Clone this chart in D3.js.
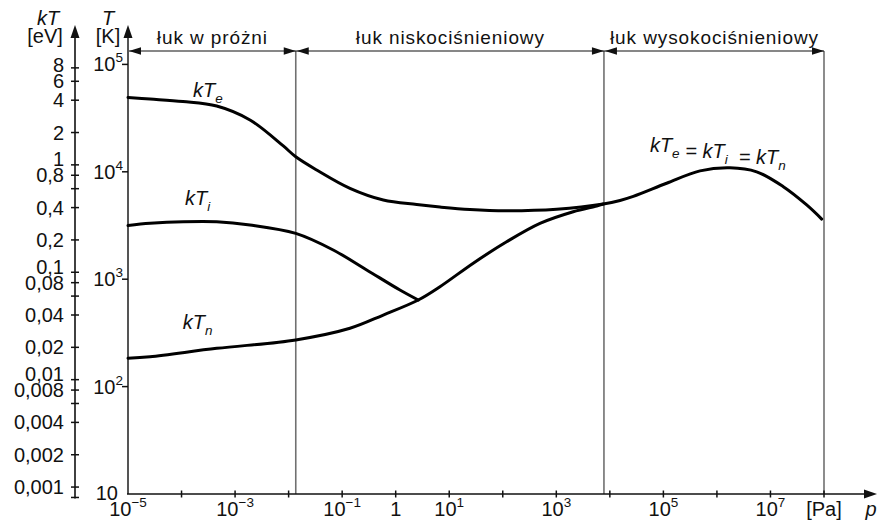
<!DOCTYPE html>
<html>
<head>
<meta charset="utf-8">
<script src="https://cdn.jsdelivr.net/npm/d3@7"></script>
<style>
  html, body { margin: 0; padding: 0; background: #fff; }
  svg { display: block; font-family: "Liberation Sans", Arial, Helvetica, sans-serif; }
</style>
</head>
<body>
<svg id="chart" width="878" height="521"></svg>
<script>
// Pressure axis (Pa), decades with tick marks
const pressureTicks = [1e-5, 1e-4, 1e-3, 1e-2, 1e-1, 1, 1e1, 1e2, 1e3, 1e4, 1e5, 1e6, 1e7, 1e8];
const pressureLabelValues = [1e-5, 1e-3, 1e-1, 1, 1e1, 1e3, 1e5, 1e7];
const pressureLabelExps = ["\u22125", "\u22123", "\u22121", null, "1", "3", "5", "7"];

// Temperature axis (K)
const tempTicks = [1e2, 1e3, 1e4, 1e5];
const tempTickExps = ["2", "3", "4", "5"];

// Energy axis kT (eV)
const EV_IN_K = 11604.5;
const kTTicks = [8, 6, 4, 2, 1, 0.8, 0.6, 0.4, 0.2, 0.1, 0.08, 0.06, 0.04, 0.02, 0.01, 0.008, 0.006, 0.004, 0.002, 0.001, 0.0008];
const kTTickLabels = ["8", "6", "4", "2", "1", "0,8", "", "0,4", "0,2", "0,1", "0,08", "", "0,04", "0,02", "0,01", "0,008", "", "0,004", "0,002", "0,001", ""];

// Arc regimes and their pressure bounds (Pa)
const regionNames = ["łuk w próżni", "łuk niskociśnieniowy", "łuk wysokociśnieniowy"];
const regionBounds = [1e-5, 0.0136, 7760, 1e8];

// Electron temperature (continues as the common equilibrium curve at high pressure)
const electronP = [1e-5, 2.58e-5, 1.06e-4, 4.54e-4, 1.9e-3, 7.96e-3, 1.36e-2, 3.34e-2, 0.14, 0.586, 2.47, 6.71, 24.4, 118, 1016, 7550,
                   1.55e4, 2.74e4, 1.15e5, 4.83e5, 1.75e6, 5.53e6, 1.74e7, 4.75e7, 9.06e7];
const electronT = [49200, 47600, 45150, 41000, 30400, 17400, 13800, 10400, 7010, 5460, 4960, 4700, 4455, 4340, 4480, 5010,
                   5410, 5900, 7820, 10200, 10900, 10000, 7260, 4910, 3630];

// Ion temperature (ends where it meets the neutral gas temperature)
const ionP = [1e-5, 2.58e-5, 1.08e-4, 4.54e-4, 1.9e-3, 1.36e-2, 6.82e-2, 0.287, 1.2, 2.64];
const ionT = [3160, 3310, 3430, 3430, 3200, 2670, 1870, 1220, 793, 640];

// Neutral gas temperature
const neutralP = [1e-5, 2.58e-5, 4.54e-4, 1.36e-2, 0.14, 0.586, 2.64, 6.71, 28.1, 118, 495, 2070, 5680, 7550];
const neutralT = [184, 190, 227, 272, 349, 464, 640, 851, 1410, 2230, 3310, 4250, 4810, 5010];

// Curve labels: position (p, T) and subscript
const curveLabelP = [1.64e-4, 1.16e-4, 1.05e-4];
const curveLabelT = [49400, 4910, 341];
const curveLabelSubs = ["e", "i", "n"];

const svg = d3.select("#chart");

const x = d3.scaleLog().domain([1e-5, 1e8]).range([128, 824]);
const y = d3.scaleLog().domain([10, 1e5]).range([494, 64.4]);

const xAxisY = y(10);
const tAxisX = x(1e-5);
const kTAxisX = 75;
const axisTop = 25;

const tickFont = 20;
const supFont = 13.5;
const ink = "#111";

// Arrowhead helper
function arrowHead(tipX, tipY, dir, len, half) {
  let pts;
  if (dir === "up") pts = [[tipX, tipY], [tipX - half, tipY + len], [tipX + half, tipY + len]];
  else if (dir === "right") pts = [[tipX, tipY], [tipX - len, tipY - half], [tipX - len, tipY + half]];
  else pts = [[tipX, tipY], [tipX + len, tipY - half], [tipX + len, tipY + half]];
  svg.append("path").attr("d", "M" + pts.map(p => p.join(",")).join("L") + "Z").attr("fill", ink);
}

// Text with superscript
function powerText(g, base, exp, anchor) {
  const t = g.append("text").attr("font-size", tickFont).attr("text-anchor", anchor).attr("fill", ink);
  t.append("tspan").text(base);
  if (exp) t.append("tspan").attr("font-size", supFont).attr("dy", -9).text(exp);
  return t;
}

// ---- Region dividers
regionBounds.slice(1).forEach(b => {
  svg.append("line")
    .attr("x1", x(b)).attr("x2", x(b))
    .attr("y1", 51).attr("y2", xAxisY)
    .attr("stroke", "#707070").attr("stroke-width", 1.6);
});

// ---- Region span arrows and names
const spanY = 51;
svg.append("line").attr("x1", x(regionBounds[0])).attr("x2", x(regionBounds[3]))
  .attr("y1", spanY).attr("y2", spanY).attr("stroke", ink).attr("stroke-width", 1.2);
regionNames.forEach((name, i) => {
  const a = x(regionBounds[i]) + 1, b = x(regionBounds[i + 1]);
  arrowHead(a, spanY, "left", 12, 3.8);
  arrowHead(b, spanY, "right", 12, 3.8);
  svg.append("text")
    .attr("x", (a + b) / 2).attr("y", 44)
    .attr("text-anchor", "middle")
    .attr("font-size", 19).attr("letter-spacing", 0.9)
    .attr("fill", ink)
    .text(name);
});

// ---- Temperature axis (K)
svg.append("line").attr("x1", tAxisX).attr("x2", tAxisX).attr("y1", xAxisY).attr("y2", axisTop + 8)
  .attr("stroke", "#555").attr("stroke-width", 2);
arrowHead(tAxisX, axisTop, "up", 13, 4.5);
tempTicks.forEach((v, i) => {
  const yy = y(v);
  svg.append("line").attr("x1", tAxisX - 6).attr("x2", tAxisX).attr("y1", yy).attr("y2", yy)
    .attr("stroke", ink).attr("stroke-width", 1.5);
  const g = svg.append("g").attr("transform", `translate(${tAxisX - 5},${yy + 7})`);
  powerText(g, "10", tempTickExps[i], "end");
});
svg.append("text").attr("x", 118).attr("y", xAxisY + 6).attr("text-anchor", "end")
  .attr("font-size", tickFont).attr("fill", ink).text("10");
svg.append("text").attr("x", 108).attr("y", 25).attr("text-anchor", "middle")
  .attr("font-size", tickFont).attr("font-style", "italic").attr("fill", ink).text("T");
svg.append("text").attr("x", 108).attr("y", 43).attr("text-anchor", "middle")
  .attr("font-size", tickFont).attr("fill", ink).text("[K]");

// ---- Energy axis (eV)
svg.append("line").attr("x1", kTAxisX).attr("x2", kTAxisX).attr("y1", y(0.0008 * EV_IN_K) + 1).attr("y2", axisTop + 8)
  .attr("stroke", ink).attr("stroke-width", 1.6);
arrowHead(kTAxisX, axisTop, "up", 13, 4.5);

// tick positions, then label centres pushed apart where neighbours crowd
const kTPos = kTTicks.map(v => y(v * EV_IN_K));
const labelled = kTTicks.map((v, i) => i).filter(i => kTTickLabels[i]);
const labelY = {};
labelled.forEach(i => { labelY[i] = kTPos[i]; });
for (let k = labelled.length - 2; k >= 0; k--) {
  const lo = labelled[k + 1], hi = labelled[k];
  if (labelY[lo] - labelY[hi] < 16) labelY[hi] = labelY[lo] - 16;
}
kTTicks.forEach((v, i) => {
  const yy = kTPos[i];
  svg.append("line").attr("x1", kTAxisX - 4).attr("x2", kTAxisX + 4).attr("y1", yy).attr("y2", yy)
    .attr("stroke", ink).attr("stroke-width", 1.5);
  if (kTTickLabels[i]) {
    svg.append("text").attr("x", kTAxisX - 11).attr("y", labelY[i] + 7).attr("text-anchor", "end")
      .attr("font-size", tickFont).attr("fill", ink).text(kTTickLabels[i]);
  }
});
svg.append("text").attr("x", 48).attr("y", 25).attr("text-anchor", "middle")
  .attr("font-size", tickFont).attr("font-style", "italic").attr("fill", ink).text("kT");
svg.append("text").attr("x", 45).attr("y", 43).attr("text-anchor", "middle")
  .attr("font-size", tickFont).attr("fill", ink).text("[eV]");

// ---- Pressure axis (Pa)
svg.append("line").attr("x1", tAxisX - 1).attr("x2", 866).attr("y1", xAxisY).attr("y2", xAxisY)
  .attr("stroke", ink).attr("stroke-width", 1.6);
arrowHead(877, xAxisY, "right", 13, 4.5);
pressureTicks.forEach(v => {
  if (v === 1e-5) return;
  svg.append("line").attr("x1", x(v)).attr("x2", x(v)).attr("y1", xAxisY - 3.5).attr("y2", xAxisY + 3.5)
    .attr("stroke", ink).attr("stroke-width", 1.5);
});
pressureLabelValues.forEach((v, i) => {
  const g = svg.append("g").attr("transform", `translate(${x(v)},516)`);
  const exp = pressureLabelExps[i];
  powerText(g, exp === null ? "1" : "10", exp, "middle");
});
svg.append("text").attr("x", x(1e8)).attr("y", 516).attr("text-anchor", "middle")
  .attr("font-size", tickFont).attr("fill", ink).text("[Pa]");
svg.append("text").attr("x", 871).attr("y", 516).attr("text-anchor", "middle")
  .attr("font-size", tickFont).attr("font-style", "italic").attr("fill", ink).text("p");

// ---- Temperature curves
const line = d3.line()
  .x(d => x(d[0]))
  .y(d => y(d[1]))
  .curve(d3.curveCatmullRom.alpha(0.5));

[[electronP, electronT], [ionP, ionT], [neutralP, neutralT]].forEach(([ps, ts]) => {
  svg.append("path")
    .datum(d3.zip(ps, ts))
    .attr("d", line)
    .attr("fill", "none")
    .attr("stroke", "#000")
    .attr("stroke-width", 3)
    .attr("stroke-linejoin", "round")
    .attr("stroke-linecap", "round");
});

// ---- Curve labels (italic kT with subscript)
function kTLabel(px, py, parts) {
  const t = svg.append("text").attr("x", px).attr("y", py)
    .attr("font-size", tickFont).attr("font-style", "italic").attr("fill", ink);
  parts.forEach(p => {
    if (p.sub) {
      t.append("tspan").attr("font-size", 13.5).attr("dy", 6).text(p.sub);
      t.append("tspan").attr("dy", -6).text("");
    } else {
      t.append("tspan").text(p.text);
    }
  });
  return t;
}
curveLabelSubs.forEach((s, i) => {
  kTLabel(x(curveLabelP[i]), y(curveLabelT[i]), [{ text: "kT" }, { sub: s }]);
});
kTLabel(x(5.6e4), y(15200), [
  { text: "kT" }, { sub: "e" }, { text: "\u00a0=\u00a0kT" }, { sub: "i" },
  { text: "\u00a0\u00a0=\u00a0kT" }, { sub: "n" }
]);
</script>
</body>
</html>
